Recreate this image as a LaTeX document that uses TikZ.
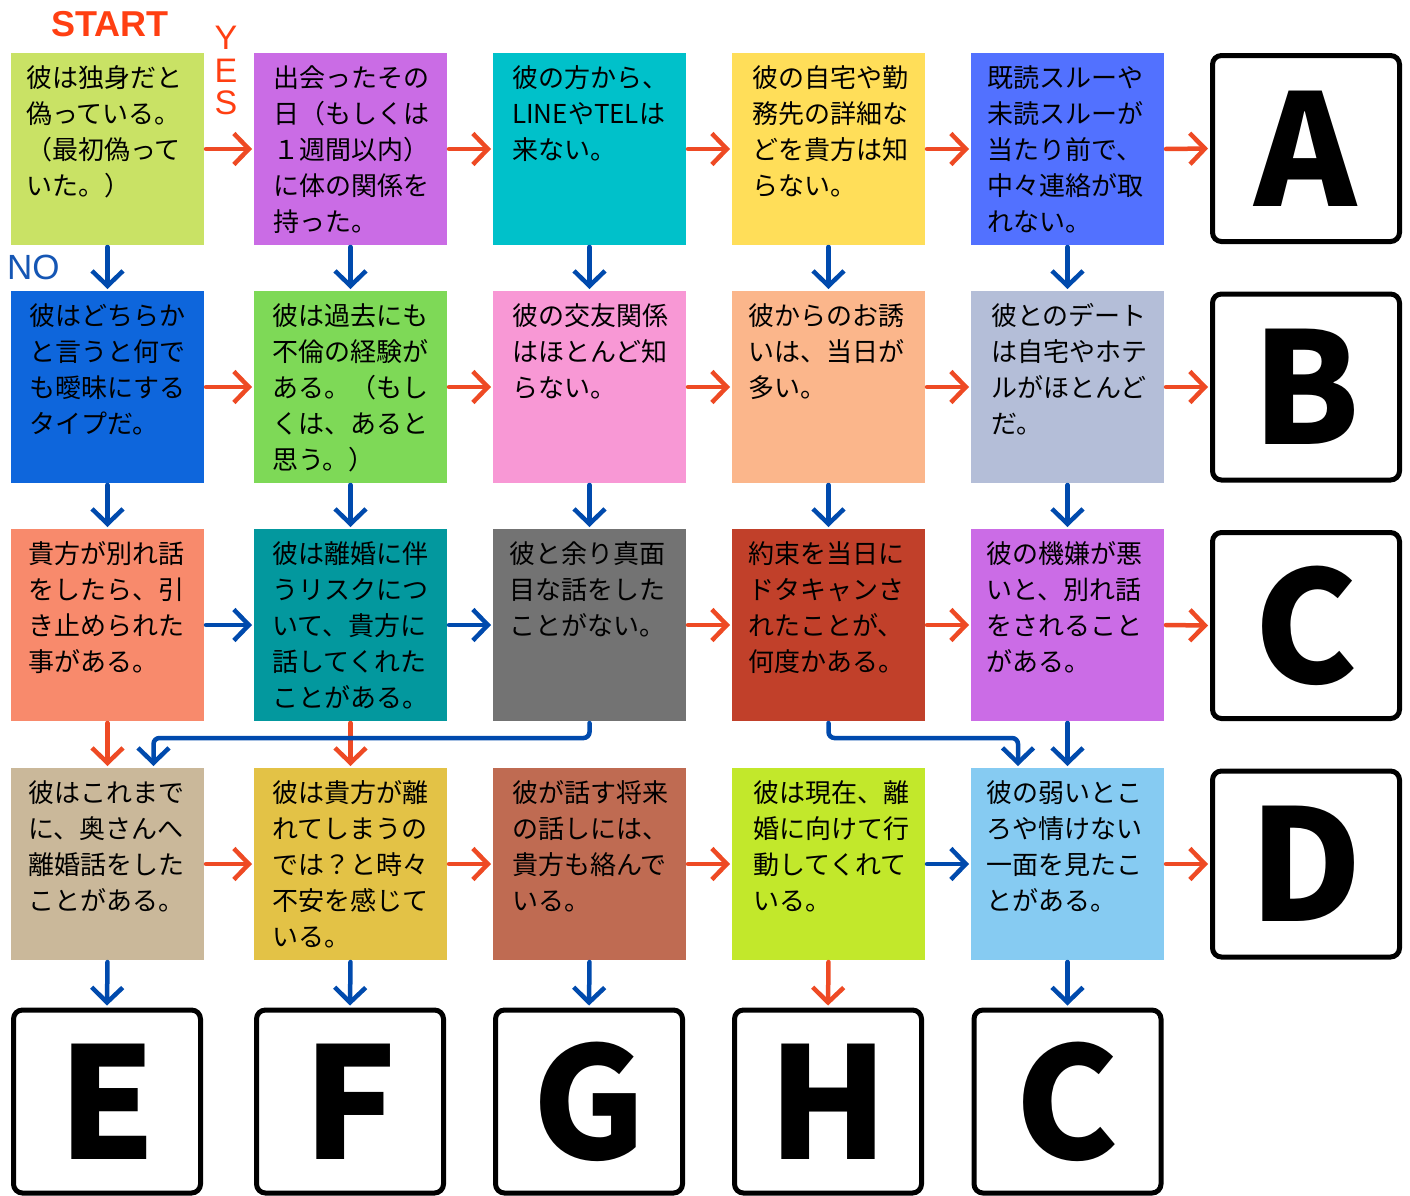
\documentclass[tikz,border=0pt]{standalone}
\usepackage{fontspec}
\setmainfont{Noto Sans CJK JP}
\newfontfamily\lsans{Liberation Sans}
\newfontfamily\bigf{Noto Sans CJK JP}
\usetikzlibrary{arrows.meta}
\definecolor{cr}{HTML}{EE4A24}
\definecolor{cb}{HTML}{004AAD}
\definecolor{cstart}{HTML}{FF3F12}
\definecolor{cno}{HTML}{1556B4}
\definecolor{a11}{HTML}{C9E265}
\definecolor{a12}{HTML}{CA6CE5}
\definecolor{a13}{HTML}{00C1CA}
\definecolor{a14}{HTML}{FFDE59}
\definecolor{a15}{HTML}{5271FF}
\definecolor{a21}{HTML}{0E66DC}
\definecolor{a22}{HTML}{7ED957}
\definecolor{a23}{HTML}{F898D5}
\definecolor{a24}{HTML}{FBB68B}
\definecolor{a25}{HTML}{B4BED8}
\definecolor{a31}{HTML}{F88A6C}
\definecolor{a32}{HTML}{03989E}
\definecolor{a33}{HTML}{737373}
\definecolor{a34}{HTML}{C1402A}
\definecolor{a35}{HTML}{CB6CE6}
\definecolor{a41}{HTML}{CAB89A}
\definecolor{a42}{HTML}{E3C246}
\definecolor{a43}{HTML}{BF6B52}
\definecolor{a44}{HTML}{C2E82B}
\definecolor{a45}{HTML}{86CBF2}
\tikzset{
  qbox/.style={anchor=north west, minimum width=193pt, minimum height=192pt, inner sep=0pt, outer sep=0pt, draw=none},
  qtext/.style={anchor=north west, inner sep=0pt, align=left, text=black, font=\fontsize{26}{36}\selectfont},
  rarr/.style={draw=cr, line width=4.5pt, line cap=round, -{Straight Barb[length=15pt,width=31pt]}, shorten >=2pt, shorten <=2pt},
  barr/.style={rarr, draw=cb},
  rbox/.style={draw=black, fill=white, line width=5pt, rounded corners=9pt, minimum width=187pt, minimum height=186pt, inner sep=0pt, font=\bigf\bfseries\fontsize{155}{155}\selectfont},
  bbox/.style={rbox, minimum height=183pt}
}
\newcommand\mkq[6]{%
  \node[qbox,fill=#4] (#1) at (#2,#3) {};
  \node[qtext] (#1t) at ([xshift=#5pt,yshift=-12pt]#1.north west) {#6};
}
\begin{document}
\begin{tikzpicture}[x=1pt,y=-1pt]
\useasboundingbox[fill=white] (0,0) rectangle (1410,1195);
% row 1
\mkq{r1c1}{11}{53}{a11}{15}{彼は独身だと\\偽っている。\\（最初偽って\\いた。）}
\mkq{r1c2}{254}{53}{a12}{19}{出会ったその\\日（もしくは\\１週間以内）\\に体の関係を\\持った。}
\mkq{r1c3}{493}{53}{a13}{19}{彼の方から、\\LINEやTELは\\来ない。}
\mkq{r1c4}{732}{53}{a14}{20}{彼の自宅や勤\\務先の詳細な\\どを貴方は知\\らない。}
\mkq{r1c5}{971}{53}{a15}{16}{既読スルーや\\未読スルーが\\当たり前で、\\中々連絡が取\\れない。}
% row 2
\mkq{r2c1}{11}{291}{a21}{18}{彼はどちらか\\と言うと何で\\も曖昧にする\\タイプだ。}
\mkq{r2c2}{254}{291}{a22}{18}{彼は過去にも\\不倫の経験が\\ある。（もし\\くは、あると\\思う。）}
\mkq{r2c3}{493}{291}{a23}{19}{彼の交友関係\\はほとんど知\\らない。}
\mkq{r2c4}{732}{291}{a24}{16}{彼からのお誘\\いは、当日が\\多い。}
\mkq{r2c5}{971}{291}{a25}{20}{彼とのデート\\は自宅やホテ\\ルがほとんど\\だ。}
% row 3
\mkq{r3c1}{11}{529}{a31}{17}{貴方が別れ話\\をしたら、引\\き止められた\\事がある。}
\mkq{r3c2}{254}{529}{a32}{18}{彼は離婚に伴\\うリスクにつ\\いて、貴方に\\話してくれた\\ことがある。}
\mkq{r3c3}{493}{529}{a33}{16}{彼と余り真面\\目な話をした\\ことがない。}
\mkq{r3c4}{732}{529}{a34}{16}{約束を当日に\\ドタキャンさ\\れたことが、\\何度かある。}
\mkq{r3c5}{971}{529}{a35}{15}{彼の機嫌が悪\\いと、別れ話\\をされること\\がある。}
% row 4
\mkq{r4c1}{11}{768}{a41}{17}{彼はこれまで\\に、奥さんへ\\離婚話をした\\ことがある。}
\mkq{r4c2}{254}{768}{a42}{18}{彼は貴方が離\\れてしまうの\\では？と時々\\不安を感じて\\いる。}
\mkq{r4c3}{493}{768}{a43}{19}{彼が話す将来\\の話しには、\\貴方も絡んで\\いる。}
\mkq{r4c4}{732}{768}{a44}{21}{彼は現在、離\\婚に向けて行\\動してくれて\\いる。}
\mkq{r4c5}{971}{768}{a45}{15}{彼の弱いとこ\\ろや情けない\\一面を見たこ\\とがある。}
% result boxes
\node[rbox] (resA) at (1306,148.5) {A};
\node[rbox] (resB) at (1306,387) {B};
\node[rbox] (resC) at (1306,625.5) {C};
\node[rbox] (resD) at (1306,864) {D};
\node[bbox] (resE) at (107,1101.5) {E};
\node[bbox] (resF) at (350,1101.5) {F};
\node[bbox] (resG) at (589,1101.5) {G};
\node[bbox] (resH) at (828,1101.5) {H};
\node[bbox] (resC2) at (1067.5,1101.5) {C};
% labels
\node[inner sep=0pt, text=cstart, font=\lsans\bfseries\fontsize{36}{36}\selectfont] (start) at (110,24) {START};
\node[anchor=north, inner sep=0pt, align=center, text=cstart, font=\lsans\fontsize{34}{32.5}\selectfont] (yes) at (226,26) {Y\\E\\S};
\node[anchor=north west, inner sep=0pt, text=cno, font=\lsans\fontsize{35}{35}\selectfont] (no) at (7,255) {NO};
% horizontal arrows row 1
\draw[rarr] (r1c1.east) -- (r1c2.west);
\draw[rarr] (r1c2.east) -- (r1c3.west);
\draw[rarr] (r1c3.east) -- (r1c4.west);
\draw[rarr] (r1c4.east) -- (r1c5.west);
\draw[rarr] (r1c5.east) -- (resA.west);
% row 2
\draw[rarr] (r2c1.east) -- (r2c2.west);
\draw[rarr] (r2c2.east) -- (r2c3.west);
\draw[rarr] (r2c3.east) -- (r2c4.west);
\draw[rarr] (r2c4.east) -- (r2c5.west);
\draw[rarr] (r2c5.east) -- (resB.west);
% row 3
\draw[barr] (r3c1.east) -- (r3c2.west);
\draw[barr] (r3c2.east) -- (r3c3.west);
\draw[rarr] (r3c3.east) -- (r3c4.west);
\draw[rarr] (r3c4.east) -- (r3c5.west);
\draw[rarr] (r3c5.east) -- (resC.west);
% row 4
\draw[rarr] (r4c1.east) -- (r4c2.west);
\draw[rarr] (r4c2.east) -- (r4c3.west);
\draw[rarr] (r4c3.east) -- (r4c4.west);
\draw[barr] (r4c4.east) -- (r4c5.west);
\draw[rarr] (r4c5.east) -- (resD.west);
% vertical arrows
\foreach \c in {1,...,5}{
  \draw[barr] (r1c\c.south) -- (r2c\c.north);
  \draw[barr] (r2c\c.south) -- (r3c\c.north);
}
\draw[rarr] (r3c1.south) -- (r4c1.north);
\draw[rarr] (r3c2.south) -- (r4c2.north);
\draw[barr] (r3c5.south) -- (r4c5.north);
\draw[barr, rounded corners=6pt] (r3c3.south) -- ++(0,17) -| ([xshift=46pt]r4c1.north);
\draw[barr, rounded corners=6pt] (r3c4.south) -- ++(0,17) -| ([xshift=-49.5pt]r4c5.north);
% to bottom results
\draw[barr] (r4c1.south) -- (resE.north);
\draw[barr] (r4c2.south) -- (resF.north);
\draw[barr] (r4c3.south) -- (resG.north);
\draw[rarr] (r4c4.south) -- (resH.north);
\draw[barr] (r4c5.south) -- (resC2.north);
\end{tikzpicture}
\end{document}
